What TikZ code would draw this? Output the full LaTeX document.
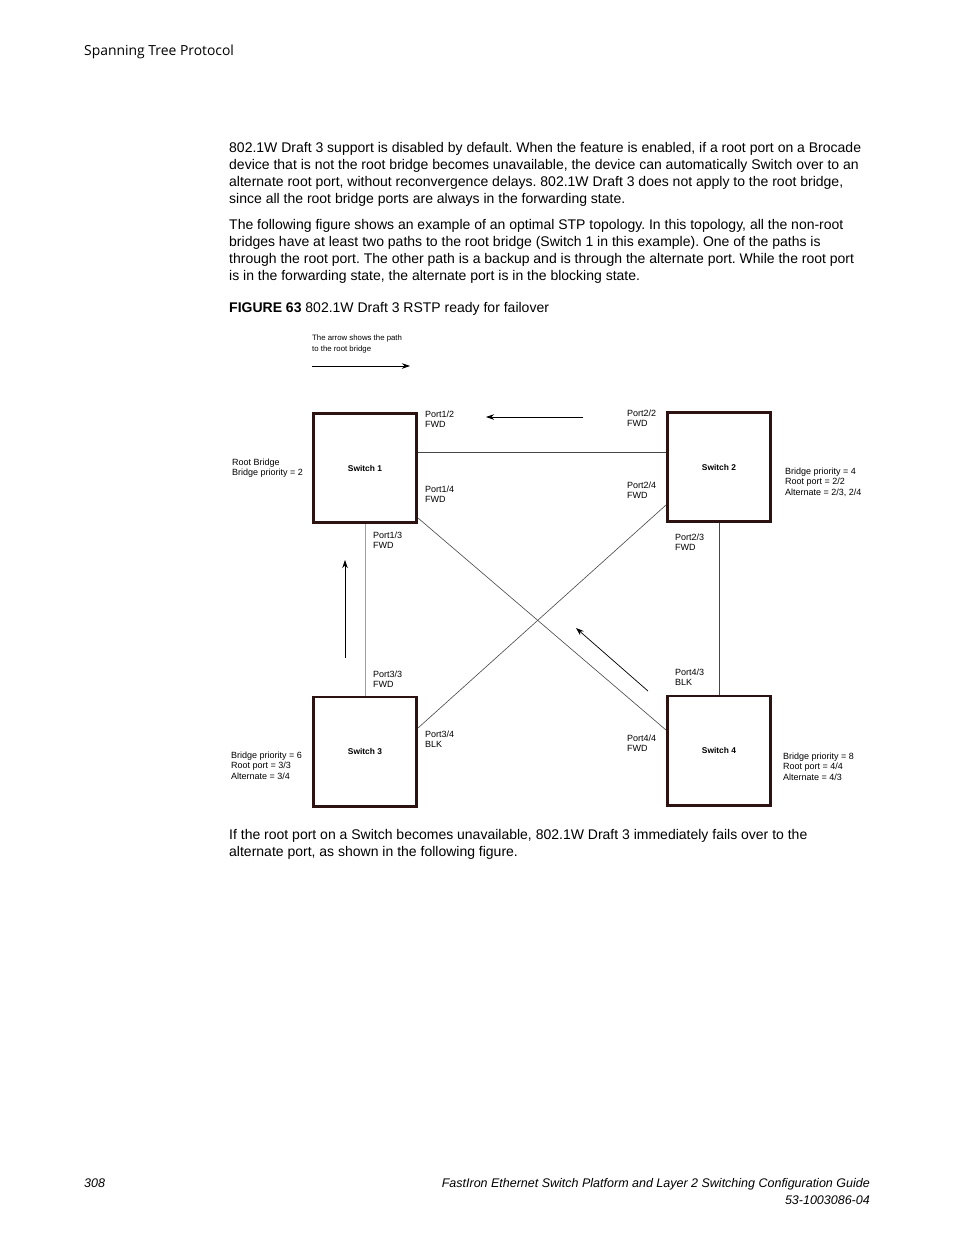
\documentclass[tikz,border=0pt]{standalone}
\usepackage{fontspec}
\setmainfont{Liberation Sans}
\newfontfamily\headfont{Open Sans}
\usetikzlibrary{arrows.meta}
\definecolor{boxline}{RGB}{45,18,18}
\definecolor{linkdark}{RGB}{70,70,70}
\definecolor{linklight}{RGB}{160,160,160}
\frenchspacing

\begin{document}
\begin{tikzpicture}[x=1pt, y=-1pt,
    bodytext/.style={anchor=base west, inner sep=0, font=\fontsize{14}{17}\selectfont},
    foottext/.style={inner sep=0, font=\fontsize{12.5}{17}\selectfont\itshape},
    portlabel/.style={anchor=north west, inner sep=0, align=left, font=\fontsize{9}{10.5}\selectfont},
    switchbox/.style={draw=boxline, line width=2.6pt, minimum width=103.4pt, minimum height=109.4pt, inner sep=0, font=\fontsize{8.4}{9}\selectfont\bfseries},
    link/.style={line width=0.6pt, linkdark},
    rootpath/.style={-{Stealth[length=8pt, width=5.5pt]}, line width=0.7pt}]
    \useasboundingbox (0,0) rectangle (954,1235);
    \fill[white] (0,0) rectangle (954,1235);

    % Header
    \node[anchor=base west, inner sep=0, font=\headfont\fontsize{13.9}{16}\selectfont] (header) at (84,55) {Spanning Tree Protocol};

    % Body text
    \node[bodytext] (p1a) at (229,152) {802.1W Draft 3 support is disabled by default. When the feature is enabled, if a root port on a Brocade};
    \node[bodytext] (p1b) at (229,169) {device that is not the root bridge becomes unavailable, the device can automatically Switch over to an};
    \node[bodytext] (p1c) at (229,186) {alternate root port, without reconvergence delays. 802.1W Draft 3 does not apply to the root bridge,};
    \node[bodytext] (p1d) at (229,203) {since all the root bridge ports are always in the forwarding state.};
    \node[bodytext] (p2a) at (229,229) {The following figure shows an example of an optimal STP topology. In this topology, all the non-root};
    \node[bodytext] (p2b) at (229,246) {bridges have at least two paths to the root bridge (Switch 1 in this example). One of the paths is};
    \node[bodytext] (p2c) at (229,263) {through the root port. The other path is a backup and is through the alternate port. While the root port};
    \node[bodytext] (p2d) at (229,280) {is in the forwarding state, the alternate port is in the blocking state.};
    \node[bodytext] (caption) at (229,312) {\textbf{FIGURE 63} 802.1W Draft 3 RSTP ready for failover};

    % Legend
    \node[portlabel, font=\fontsize{7.8}{11}\selectfont] (legend) at (312,335) {The arrow shows the path\\to the root bridge};
    \draw[rootpath] (312,366) -- (410,366);

    % Switches
    \node[switchbox] (s1) at (365,468) {Switch 1};
    \node[switchbox] (s2) at (719,467) {Switch 2};
    \node[switchbox] (s3) at (365,751.5) {Switch 3};
    \node[switchbox] (s4) at (719,750.5) {Switch 4};

    % Links
    \draw[link] ([yshift=16pt]s1.east) -- ([yshift=15pt]s2.west);
    \draw[link, linklight] (s1.south) -- (s3.north);
    \draw[link] (s2.south) -- (s4.north);
    \draw[link] ([yshift=6pt]s1.south east) -- ([yshift=20.5pt]s4.west);
    \draw[link] ([yshift=23.5pt]s3.east) -- ([yshift=-38pt]s2.west);

    % Paths to the root bridge
    \draw[rootpath] (583,417) -- (486,417);
    \draw[rootpath] (345,658) -- (345,560);
    \draw[rootpath] (648,691) -- (576,628);

    % Port labels
    \node[portlabel] (port12) at (425,410.5) {Port1/2\\FWD};
    \node[portlabel] (port22) at (627,409.5) {Port2/2\\FWD};
    \node[portlabel] (port14) at (425,485.5) {Port1/4\\FWD};
    \node[portlabel] (port24) at (627,481.5) {Port2/4\\FWD};
    \node[portlabel] (port13) at (373,531.5) {Port1/3\\FWD};
    \node[portlabel] (port23) at (675,533.5) {Port2/3\\FWD};
    \node[portlabel] (port33) at (373,670.5) {Port3/3\\FWD};
    \node[portlabel] (port43) at (675,668.5) {Port4/3\\BLK};
    \node[portlabel] (port34) at (425,730.5) {Port3/4\\BLK};
    \node[portlabel] (port44) at (627,734.5) {Port4/4\\FWD};

    % Bridge info
    \node[portlabel] (info1) at (232,458.5) {Root Bridge\\Bridge priority = 2};
    \node[portlabel] (info2) at (785,467.5) {Bridge priority = 4\\Root port = 2/2\\Alternate = 2/3, 2/4};
    \node[portlabel] (info3) at (231,751.5) {Bridge priority = 6\\Root port = 3/3\\Alternate = 3/4};
    \node[portlabel] (info4) at (783,752.5) {Bridge priority = 8\\Root port = 4/4\\Alternate = 4/3};

    % Text after figure
    \node[bodytext] (p3a) at (229,839) {If the root port on a Switch becomes unavailable, 802.1W Draft 3 immediately fails over to the};
    \node[bodytext] (p3b) at (229,856) {alternate port, as shown in the following figure.};

    % Footer
    \node[foottext, anchor=base west] (pagenum) at (84,1187) {308};
    \node[foottext, anchor=base east] (guide) at (870,1187) {FastIron Ethernet Switch Platform and Layer 2 Switching Configuration Guide};
    \node[foottext, anchor=base east] (docnum) at (870,1204) {53-1003086-04};
\end{tikzpicture}
\end{document}
